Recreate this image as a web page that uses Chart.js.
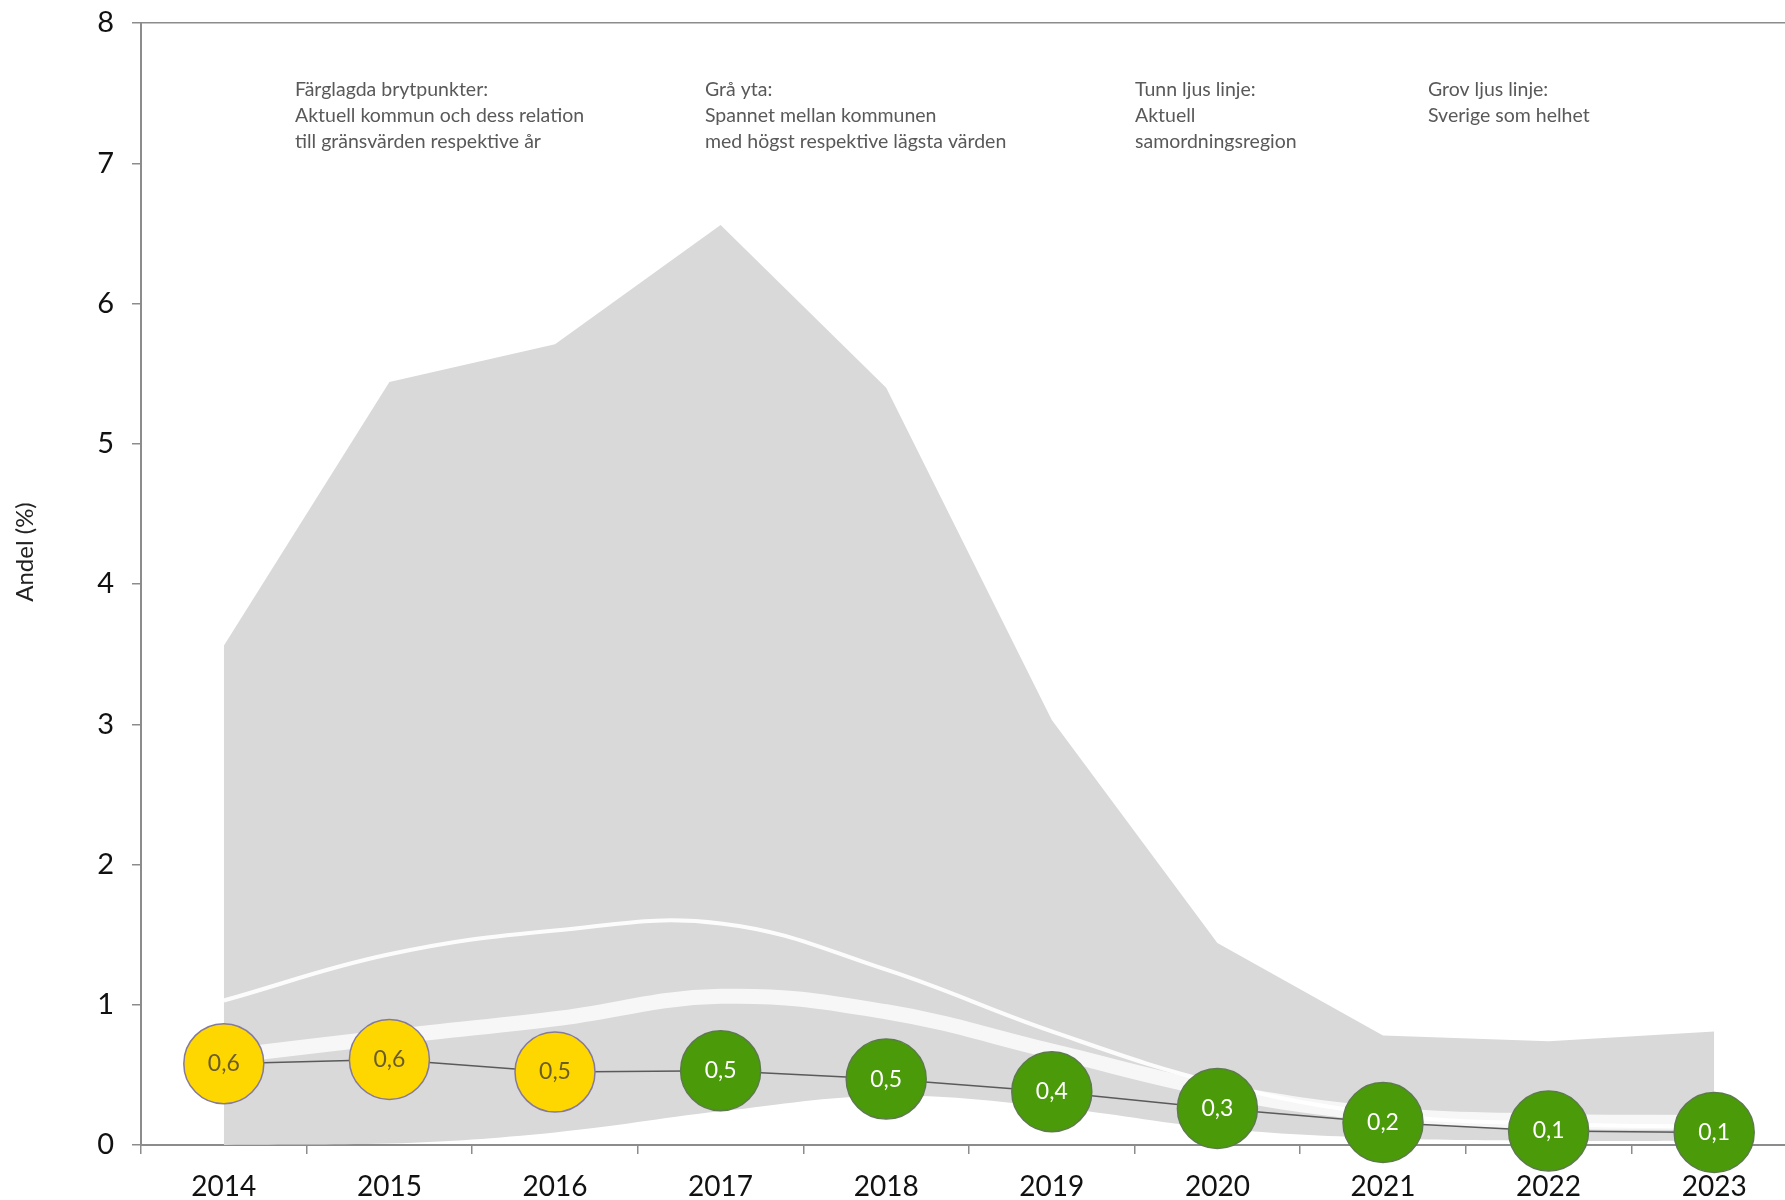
<!DOCTYPE html>
<html>
<head>
<meta charset="utf-8">
<script src="https://cdn.jsdelivr.net/npm/chart.js@4"></script>
<style>
html, body { margin:0; padding:0; background:#fff; overflow:hidden; }
#wrap { width:1800px; height:1200px; }
</style>
</head>
<body>
<div id="wrap"><canvas id="c" width="1800" height="1200"></canvas></div>
<script>
var years   = ['2014','2015','2016','2017','2018','2019','2020','2021','2022','2023'];
// aktuell kommun
var kommun  = [0.58, 0.61, 0.52, 0.53, 0.47, 0.38, 0.26, 0.16, 0.10, 0.09];
var niva    = ['gul','gul','gul','gron','gron','gron','gron','gron','gron','gron'];
// tunn ljus linje: samordningsregion
var region  = [1.03, 1.36, 1.53, 1.58, 1.25, 0.81, 0.44, 0.22, 0.15, 0.13];
// grov ljus linje: Sverige
var sverige = [0.63, 0.77, 0.90, 1.06, 0.95, 0.67, 0.39, 0.22, 0.17, 0.16];
// grå yta: högsta / lägsta kommun
var maxv    = [3.56, 5.44, 5.71, 6.56, 5.40, 3.03, 1.44, 0.78, 0.74, 0.81];
var minv    = [0.00, 0.01, 0.09, 0.24, 0.35, 0.27, 0.12, 0.05, 0.03, 0.03];
var yTicks  = [0,1,2,3,4,5,6,7,8];

var notes = [
    {x:295,  lines:['Färglagda brytpunkter:','Aktuell kommun och dess relation','till gränsvärden respektive år']},
    {x:705,  lines:['Grå yta:','Spannet mellan kommunen','med högst respektive lägsta värden']},
    {x:1135, lines:['Tunn ljus linje:','Aktuell','samordningsregion']},
    {x:1428, lines:['Grov ljus linje:','Sverige som helhet']}
];

var axisGray = '#8c8c8c';
var fill = {gul:'#ffd700', gron:'#4a9a0a'};
var edge = {gul:'#85799c', gron:'#5d7a4c'};
var txt  = {gul:'#6b5d2a', gron:'#ffffff'};

function fmt(v){ return (Math.round(v*10)/10).toFixed(1).replace('.', ','); }

Chart.defaults.font.family = 'Lato, "Open Sans", sans-serif';

var textPlugin = {
    id:'texts',
    afterDatasetsDraw: function(chart){
        var c = chart.ctx, meta = chart.getDatasetMeta(0);
        c.save();
        c.font = '23px Lato';
        c.textAlign = 'center';
        c.textBaseline = 'middle';
        meta.data.forEach(function(p, i){
            c.fillStyle = txt[niva[i]];
            c.fillText(fmt(kommun[i]), p.x, p.y);
        });
        // notes
        c.font = '19.5px Lato';
        c.textAlign = 'left';
        c.fillStyle = '#595959';
        notes.forEach(function(n){
            n.lines.forEach(function(l, j){ c.fillText(l, n.x, 90 + j*26); });
        });
        // y title
        c.translate(25, 552);
        c.rotate(-Math.PI/2);
        c.textAlign = 'center';
        c.font = '24px Lato';
        c.fillStyle = '#222';
        c.fillText('Andel (%)', 0, 0);
        c.restore();
    }
};

new Chart(document.getElementById('c').getContext('2d'), {
    type:'line',
    data:{
        labels: years,
        datasets:[
            {
                data: kommun,
                borderColor:'#5a5a5a',
                borderWidth:1.5,
                tension:0,
                pointRadius:40,
                pointHoverRadius:40,
                pointBackgroundColor: niva.map(function(s){ return fill[s]; }),
                pointBorderColor: niva.map(function(s){ return edge[s]; }),
                pointBorderWidth:1.5,
                clip:false,
                fill:false
            },
            {
                data: region,
                borderColor:'rgba(255,255,255,0.92)',
                borderWidth:4,
                tension:0.4,
                pointRadius:0,
                fill:false
            },
            {
                data: sverige,
                borderColor:'rgba(255,255,255,0.78)',
                borderWidth:15,
                tension:0.4,
                pointRadius:0,
                fill:false
            },
            {
                data: maxv,
                borderWidth:0,
                borderColor:'rgba(0,0,0,0)',
                backgroundColor:'#d9d9d9',
                tension:0,
                pointRadius:0,
                fill:'+1'
            },
            {
                data: minv,
                borderWidth:0,
                borderColor:'rgba(0,0,0,0)',
                tension:0.4,
                pointRadius:0,
                fill:false
            }
        ]
    },
    options:{
        responsive:false,
        animation:false,
        events:[],
        layout:{ autoPadding:false, padding:{ top:23, right:3, left:0, bottom:0 } },
        plugins:{ legend:{display:false}, tooltip:{enabled:false} },
        scales:{
            x:{
                offset:true,
                afterFit:function(s){ s.height = 55; s.paddingLeft = 0; s.paddingRight = 0; },
                border:{ color:axisGray, width:2 },
                grid:{ offset:true, drawOnChartArea:false, tickLength:9, tickColor:axisGray, lineWidth:1.5 },
                ticks:{ color:'#111', font:{size:28}, padding:16, maxRotation:0 }
            },
            y:{
                min:0, max:8,
                afterFit:function(s){ s.width = 141; s.paddingTop = 0; s.paddingBottom = 0; },
                afterBuildTicks:function(s){ s.ticks = yTicks.map(function(v){ return {value:v}; }); },
                border:{ color:axisGray, width:2 },
                grid:{
                    tickLength:9,
                    tickColor:axisGray,
                    lineWidth:1.5,
                    color:function(ctx){ return ctx.tick && ctx.tick.value === 8 ? axisGray : 'rgba(0,0,0,0)'; }
                },
                ticks:{ color:'#111', font:{size:29}, padding:18 }
            }
        }
    },
    plugins:[textPlugin]
});
</script>
</body>
</html>
